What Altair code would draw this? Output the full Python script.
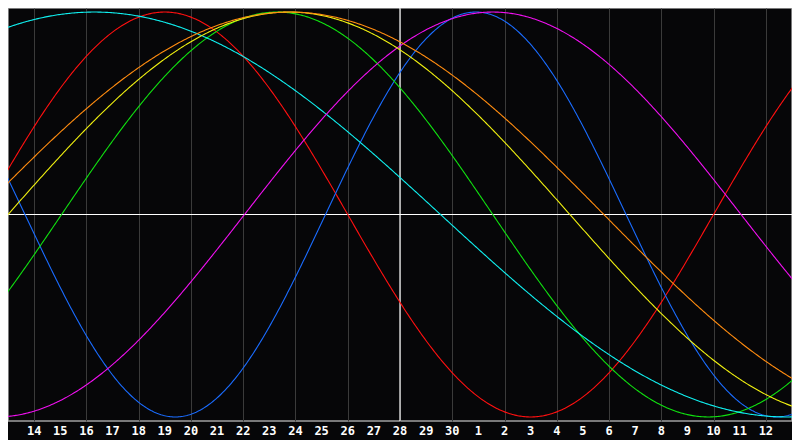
import numpy as np
import pandas as pd
import altair as alt

# Biorhythm cycles: period (days) and day (from left edge) of the peak
names = ["Emotional", "Physical", "Intellectual", "Spiritual", "Intuitive", "Aesthetic", "Awareness"]
periods = [28, 23, 33, 53, 38, 43, 48]
peak_days = [6.0, 17.9, 10.3, 3.3, 18.55, 10.75, 10.8]
colors = ["#ff1010", "#1a6cff", "#10e010", "#10f0f0", "#f010f0", "#f0f010", "#ff8c10"]

# x axis: 30 days shown, gridlines at days 1..29, labelled with the day of month
tick_days = list(range(1, 30))
tick_labels = ["14", "15", "16", "17", "18", "19", "20", "21", "22", "23", "24", "25", "26", "27",
               "28", "29", "30", "1", "2", "3", "4", "5", "6", "7", "8", "9", "10", "11", "12"]
today_pos = 15

rows = []
ts = np.arange(-0.5, 30.51, 0.05)
for n, p, pk in zip(names, periods, peak_days):
    for t in ts:
        rows.append({"name": n, "t": float(t), "v": float(np.cos(2 * np.pi * (t - pk) / p))})
df = pd.DataFrame(rows)

W, H = 784, 413

x_scale = alt.Scale(domain=[0, 30], nice=False, zero=False)
x_enc = alt.X(
    "t:Q",
    scale=x_scale,
    axis=alt.Axis(
        values=tick_days, grid=True, gridColor="#3a3a3a", gridWidth=1,
        ticks=False, domain=False, labels=False, title=None,
    ),
)
y_scale = alt.Scale(domain=[-1.02, 1.02], nice=False, zero=False)

lines = alt.Chart(df).mark_line(strokeWidth=1.1, clip=True).encode(
    x=x_enc,
    y=alt.Y("v:Q", scale=y_scale, axis=None),
    color=alt.Color("name:N", scale=alt.Scale(domain=names, range=colors), legend=None),
)

vrule = alt.Chart(pd.DataFrame({"t": [today_pos]})).mark_rule(color="white", strokeWidth=1.2).encode(
    x=alt.X("t:Q", scale=x_scale)
)
hrule = alt.Chart(pd.DataFrame({"v": [0]})).mark_rule(color="white", strokeWidth=1.2).encode(
    y=alt.Y("v:Q", scale=y_scale, axis=None)
)

labels_df = pd.DataFrame({"t": tick_days, "label": tick_labels})
labels = alt.Chart(labels_df).mark_text(
    color="white", font="DejaVu Sans Mono", fontWeight="bold", fontSize=12,
    baseline="middle", align="center", clip=False,
).encode(
    x=alt.X("t:Q", scale=x_scale),
    y=alt.value(H + 10),
    text="label:N",
)

chart = alt.layer(vrule, hrule, lines, labels).properties(
    width=W, height=H, background="#060608", padding={"left": 0, "top": 0, "right": 0, "bottom": 19},
    autosize=alt.AutoSizeParams(type="none"),
).configure_view(stroke="#a0a0a0", strokeWidth=1.5)

chart.save("out.html", embed_options={"renderer": "svg", "actions": False})
